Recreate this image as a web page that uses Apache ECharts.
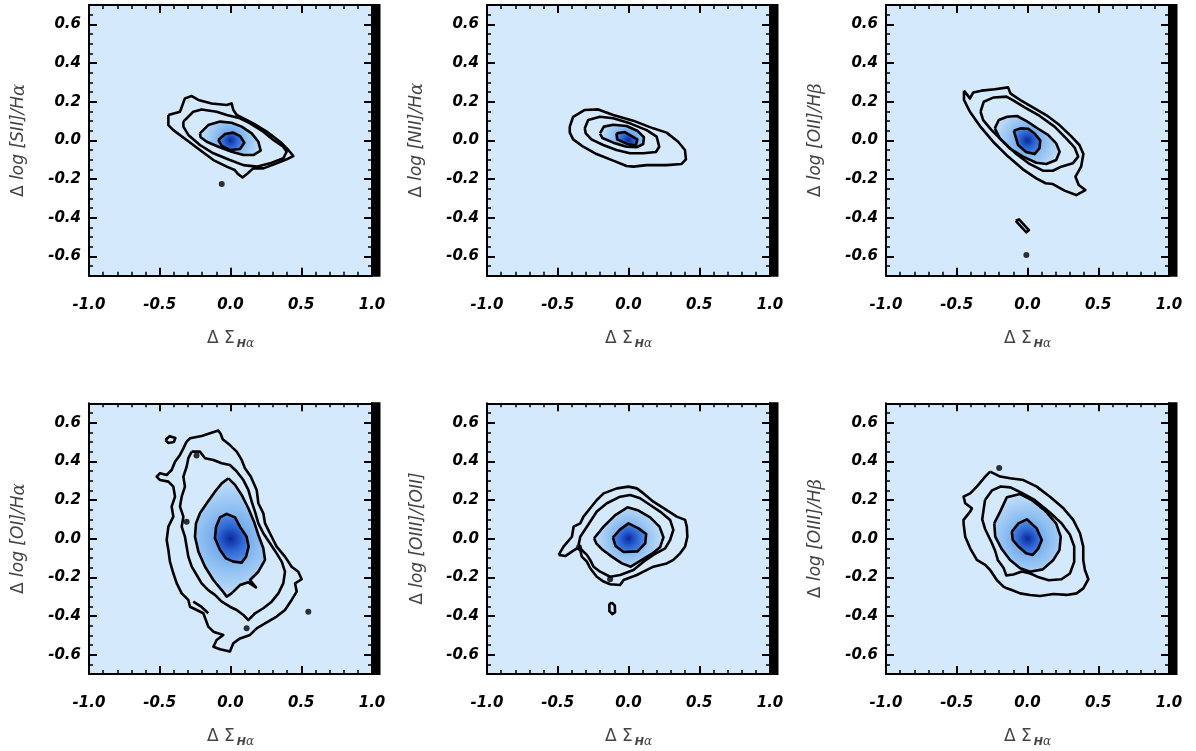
<!DOCTYPE html>
<html><head><meta charset="utf-8">
<script src="https://cdn.jsdelivr.net/npm/echarts@6/dist/echarts.min.js"></script>
<style>html,body{margin:0;padding:0;background:#fff}#c{width:1196px;height:751px}</style>
</head><body><div id="c"></div><script>
// ---- tick labels ----
const yTicks = [-0.6, -0.4, -0.2, 0.0, 0.2, 0.4, 0.6];
const xTitle = 'Δ Σ{s|H}{sa|α}';
const yTitles = [
  'Δ {i|log [SII]/H}{a|α}', 'Δ {i|log [NII]/H}{a|α}', 'Δ {i|log [OII]/H}{a|β}',
  'Δ {i|log [OI]/H}{a|α}', 'Δ {i|log [OIII]/[OII]}', 'Δ {i|log [OIII]/H}{a|β}'
];
const peaks = [[0, 0], [0, 0], [0, 0], [0, 0], [0, 0], [0, 0]];

// ---- panel 1: [SII]/Ha ----
const sii_c1 = [[-0.439,0.131],[-0.357,0.148],[-0.322,0.217],[-0.274,0.229],[-0.227,0.209],[-0.133,0.191],[-0.027,0.183],[0.008,0.191],[0.020,0.157],[0.044,0.131],[0.161,0.088],[0.256,0.045],[0.350,-0.007],[0.409,-0.050],[0.444,-0.081],[0.397,-0.098],[0.326,-0.119],[0.232,-0.145],[0.161,-0.145],[0.120,-0.171],[0.085,-0.192],[0.050,-0.172],[0.030,-0.153],[-0.027,-0.136],[-0.121,-0.102],[-0.216,-0.050],[-0.310,0.002],[-0.404,0.053],[-0.439,0.079]];
const sii_c2 = [[-0.333,0.097],[-0.263,0.148],[-0.204,0.160],[-0.098,0.148],[-0.027,0.131],[0.067,0.114],[0.138,0.088],[0.232,0.045],[0.303,0.002],[0.373,-0.033],[0.397,-0.059],[0.373,-0.093],[0.279,-0.119],[0.185,-0.136],[0.091,-0.128],[-0.004,-0.102],[-0.121,-0.067],[-0.216,-0.024],[-0.298,0.028],[-0.333,0.071]];
const sii_c3 = [[-0.216,0.036],[-0.157,0.079],[-0.074,0.097],[0.008,0.091],[0.079,0.071],[0.150,0.036],[0.197,-0.007],[0.213,-0.053],[0.161,-0.076],[0.091,-0.076],[0.008,-0.059],[-0.086,-0.033],[-0.168,-0.007],[-0.211,0.016]];
const sii_c4 = [[-0.086,0.002],[-0.039,0.033],[0.020,0.040],[0.067,0.022],[0.098,-0.012],[0.067,-0.045],[-0.004,-0.050],[-0.062,-0.029]];
const sii_islands = [];
const sii_dots = [[-0.062,-0.226]];

// ---- panel 2: [NII]/Ha ----
const nii_c1 = [[-0.415,0.071],[-0.391,0.122],[-0.309,0.157],[-0.214,0.160],[-0.108,0.131],[0.033,0.102],[0.174,0.062],[0.269,0.040],[0.351,-0.007],[0.399,-0.050],[0.406,-0.098],[0.375,-0.122],[0.269,-0.128],[0.128,-0.128],[0.033,-0.136],[-0.014,-0.133],[-0.108,-0.105],[-0.226,-0.071],[-0.320,-0.033],[-0.391,0.005],[-0.415,0.040]];
const nii_c2 = [[-0.309,0.062],[-0.285,0.105],[-0.202,0.122],[-0.108,0.114],[0.010,0.088],[0.128,0.053],[0.199,0.019],[0.217,-0.033],[0.194,-0.060],[0.104,-0.067],[0.010,-0.067],[-0.085,-0.050],[-0.179,-0.024],[-0.262,0.005],[-0.302,0.036]];
const nii_c3 = [[-0.202,0.036],[-0.174,0.071],[-0.108,0.081],[-0.014,0.074],[0.062,0.050],[0.109,0.016],[0.104,-0.019],[0.057,-0.036],[-0.014,-0.033],[-0.108,-0.012],[-0.184,0.012]];
const nii_c4 = [[-0.085,0.036],[-0.026,0.043],[0.062,0.005],[0.052,-0.026],[-0.002,-0.021],[-0.080,0.005]];
const nii_islands = [];
const nii_dots = [];

// ---- panel 3: [OII]/Hb ----
const oii_c1 = [[-0.449,0.257],[-0.407,0.217],[-0.384,0.247],[-0.325,0.257],[-0.231,0.264],[-0.137,0.274],[-0.121,0.243],[-0.044,0.205],[0.038,0.171],[0.132,0.131],[0.226,0.079],[0.308,0.022],[0.367,-0.024],[0.395,-0.071],[0.379,-0.136],[0.339,-0.188],[0.362,-0.231],[0.409,-0.257],[0.344,-0.283],[0.262,-0.260],[0.179,-0.226],[0.128,-0.222],[0.062,-0.197],[-0.032,-0.150],[-0.137,-0.084],[-0.243,-0.007],[-0.336,0.074],[-0.407,0.148],[-0.449,0.209]];
const oii_c2 = [[-0.332,0.148],[-0.309,0.200],[-0.238,0.222],[-0.149,0.226],[-0.107,0.209],[-0.020,0.171],[0.086,0.126],[0.191,0.071],[0.273,0.010],[0.332,-0.036],[0.358,-0.084],[0.320,-0.119],[0.238,-0.136],[0.179,-0.157],[0.109,-0.157],[0.015,-0.122],[-0.079,-0.071],[-0.172,-0.007],[-0.254,0.053],[-0.313,0.105]];
const oii_c3 = [[-0.231,0.062],[-0.203,0.105],[-0.144,0.122],[-0.074,0.126],[-0.003,0.098],[0.067,0.064],[0.145,0.028],[0.203,-0.016],[0.227,-0.059],[0.203,-0.102],[0.133,-0.122],[0.062,-0.116],[-0.032,-0.084],[-0.126,-0.041],[-0.196,0.010]];
const oii_c4 = [[-0.097,0.050],[-0.050,0.062],[0.005,0.060],[0.050,0.035],[0.090,0.000],[0.085,-0.040],[0.050,-0.071],[-0.010,-0.060],[-0.067,-0.024]];
const oii_islands = [[[-0.083,-0.416],[-0.060,-0.409],[0.010,-0.464],[-0.008,-0.476],[-0.083,-0.416]]];
const oii_dots = [[-0.008,-0.593]];

// ---- panel 4: [OI]/Ha ----
const oi_c1 = [[-0.310,0.502],[-0.286,0.519],[-0.204,0.531],[-0.086,0.559],[-0.069,0.541],[-0.055,0.514],[-0.004,0.484],[0.044,0.450],[0.079,0.407],[0.102,0.364],[0.143,0.321],[0.185,0.252],[0.197,0.183],[0.232,0.131],[0.244,0.079],[0.291,0.010],[0.326,-0.041],[0.385,-0.093],[0.432,-0.145],[0.479,-0.171],[0.503,-0.210],[0.456,-0.231],[0.468,-0.274],[0.432,-0.317],[0.385,-0.369],[0.326,-0.403],[0.244,-0.438],[0.185,-0.464],[0.138,-0.498],[0.067,-0.516],[0.020,-0.541],[-0.004,-0.584],[-0.074,-0.572],[-0.121,-0.559],[-0.098,-0.524],[-0.051,-0.498],[-0.121,-0.481],[-0.157,-0.455],[-0.192,-0.386],[-0.239,-0.369],[-0.286,-0.352],[-0.298,-0.317],[-0.345,-0.283],[-0.380,-0.231],[-0.404,-0.179],[-0.428,-0.119],[-0.439,-0.059],[-0.451,-0.007],[-0.439,0.062],[-0.404,0.114],[-0.416,0.166],[-0.392,0.217],[-0.404,0.269],[-0.439,0.295],[-0.498,0.303],[-0.522,0.321],[-0.498,0.338],[-0.451,0.329],[-0.416,0.355],[-0.392,0.398],[-0.357,0.433],[-0.333,0.467]];
const oi_c2 = [[-0.274,0.450],[-0.216,0.450],[-0.180,0.416],[-0.121,0.407],[-0.062,0.390],[-0.004,0.381],[0.044,0.347],[0.091,0.303],[0.126,0.252],[0.150,0.191],[0.173,0.140],[0.197,0.079],[0.232,0.028],[0.279,-0.024],[0.326,-0.076],[0.362,-0.119],[0.385,-0.171],[0.373,-0.231],[0.338,-0.283],[0.291,-0.326],[0.232,-0.360],[0.173,-0.386],[0.126,-0.421],[0.091,-0.395],[0.044,-0.369],[-0.004,-0.352],[-0.062,-0.326],[-0.110,-0.291],[-0.157,-0.266],[-0.204,-0.231],[-0.239,-0.188],[-0.274,-0.145],[-0.298,-0.093],[-0.310,-0.041],[-0.322,0.010],[-0.345,0.062],[-0.333,0.114],[-0.357,0.166],[-0.345,0.217],[-0.322,0.269],[-0.333,0.321],[-0.310,0.372],[-0.298,0.416]];
const oi_c3 = [[-0.015,0.312],[0.032,0.278],[0.079,0.226],[0.126,0.157],[0.166,0.088],[0.197,0.019],[0.232,-0.050],[0.244,-0.110],[0.197,-0.171],[0.138,-0.214],[0.180,-0.252],[0.126,-0.226],[0.067,-0.240],[0.008,-0.283],[-0.027,-0.300],[-0.062,-0.266],[-0.121,-0.214],[-0.180,-0.145],[-0.227,-0.067],[-0.251,0.010],[-0.244,0.079],[-0.216,0.131],[-0.168,0.183],[-0.110,0.243],[-0.062,0.286]];
const oi_c4 = [[-0.102,0.062],[-0.074,0.110],[-0.027,0.128],[0.032,0.110],[0.067,0.062],[0.114,0.010],[0.128,-0.041],[0.110,-0.093],[0.079,-0.124],[0.020,-0.119],[-0.032,-0.102],[-0.074,-0.059],[-0.110,0.002]];
const oi_islands = [
  [[-0.46,0.510],[-0.43,0.530],[-0.39,0.520],[-0.40,0.500],[-0.44,0.495],[-0.46,0.510]],
  [[-0.263,-0.326],[-0.210,-0.350],[-0.157,-0.386]]
];
const oi_dots = [[-0.31,0.088],[-0.24,0.43],[0.55,-0.378],[0.114,-0.464]];

// ---- panel 5: [OIII]/[OII] ----
const oiiioii_c1 = [[-0.494,-0.084],[-0.459,-0.041],[-0.400,0.010],[-0.388,0.062],[-0.341,0.079],[-0.318,0.114],[-0.271,0.157],[-0.224,0.200],[-0.176,0.234],[-0.082,0.260],[0.000,0.269],[0.059,0.260],[0.106,0.234],[0.176,0.191],[0.270,0.148],[0.341,0.114],[0.400,0.097],[0.412,0.062],[0.416,0.010],[0.400,-0.041],[0.365,-0.076],[0.317,-0.110],[0.270,-0.128],[0.176,-0.145],[0.106,-0.171],[0.059,-0.188],[-0.035,-0.214],[-0.059,-0.240],[-0.130,-0.236],[-0.176,-0.222],[-0.224,-0.197],[-0.271,-0.153],[-0.294,-0.119],[-0.330,-0.093],[-0.341,-0.059],[-0.365,-0.050],[-0.400,-0.067],[-0.447,-0.090]];
const oiiioii_c2 = [[-0.353,-0.033],[-0.341,0.010],[-0.294,0.062],[-0.224,0.140],[-0.153,0.183],[-0.059,0.217],[0.012,0.226],[0.082,0.209],[0.153,0.174],[0.223,0.140],[0.294,0.097],[0.317,0.045],[0.294,-0.007],[0.259,-0.050],[0.176,-0.084],[0.106,-0.119],[0.035,-0.162],[-0.059,-0.188],[-0.130,-0.197],[-0.200,-0.171],[-0.247,-0.145],[-0.271,-0.110],[-0.294,-0.084],[-0.330,-0.059]];
const oiiioii_c3 = [[-0.243,0.002],[-0.176,0.062],[-0.094,0.122],[-0.007,0.162],[0.071,0.145],[0.153,0.110],[0.219,0.062],[0.247,0.007],[0.223,-0.045],[0.164,-0.079],[0.094,-0.110],[0.016,-0.145],[-0.047,-0.128],[-0.118,-0.093],[-0.181,-0.059],[-0.228,-0.024]];
const oiiioii_c4 = [[-0.110,0.007],[-0.059,0.048],[0.000,0.079],[0.071,0.053],[0.125,0.024],[0.118,-0.024],[0.064,-0.066],[-0.035,-0.069],[-0.092,-0.038]];
const oiiioii_islands = [[[-0.12,-0.330],[-0.097,-0.345],[-0.095,-0.380],[-0.115,-0.390],[-0.135,-0.375],[-0.135,-0.340],[-0.12,-0.330]]];
const oiiioii_dots = [[-0.13,-0.21],[-0.35,-0.045]];

// ---- panel 6: [OIII]/Hb ----
const oiiihb_c1 = [[-0.264,0.347],[-0.193,0.321],[-0.123,0.312],[-0.029,0.303],[0.065,0.269],[0.159,0.217],[0.254,0.157],[0.323,0.097],[0.371,0.028],[0.394,-0.041],[0.394,-0.110],[0.406,-0.162],[0.430,-0.210],[0.394,-0.257],[0.347,-0.283],[0.276,-0.291],[0.183,-0.286],[0.089,-0.297],[0.018,-0.291],[-0.052,-0.283],[-0.111,-0.266],[-0.146,-0.257],[-0.170,-0.248],[-0.217,-0.214],[-0.264,-0.162],[-0.299,-0.136],[-0.358,-0.110],[-0.405,-0.050],[-0.440,0.010],[-0.452,0.079],[-0.452,0.097],[-0.405,0.140],[-0.393,0.157],[-0.440,0.183],[-0.452,0.217],[-0.405,0.234],[-0.358,0.269],[-0.299,0.321]];
const oiiihb_c2 = [[-0.30,0.20],[-0.25,0.25],[-0.19,0.27],[-0.12,0.265],[-0.05,0.24],[0.05,0.20],[0.15,0.14],[0.24,0.08],[0.30,0.02],[0.33,-0.04],[0.33,-0.12],[0.30,-0.18],[0.24,-0.21],[0.15,-0.215],[0.08,-0.20],[0.02,-0.18],[-0.04,-0.17],[-0.10,-0.185],[-0.15,-0.19],[-0.17,-0.15],[-0.21,-0.11],[-0.23,-0.06],[-0.26,-0.01],[-0.30,0.05],[-0.32,0.10],[-0.31,0.15]];
const oiiihb_c3 = [[-0.235,0.079],[-0.193,0.140],[-0.146,0.214],[-0.052,0.231],[0.030,0.200],[0.124,0.145],[0.202,0.079],[0.235,0.010],[0.226,-0.059],[0.183,-0.110],[0.108,-0.159],[0.018,-0.171],[-0.052,-0.153],[-0.123,-0.110],[-0.181,-0.055],[-0.228,0.010]];
const oiiihb_c4 = [[-0.111,0.036],[-0.064,0.079],[-0.005,0.100],[0.065,0.053],[0.101,-0.007],[0.077,-0.050],[0.037,-0.084],[-0.010,-0.076],[-0.064,-0.041],[-0.104,-0.007]];
const oiiihb_islands = [];
const oiiihb_dots = [[-0.20,0.365]];

// ---- assemble ----
const panels = [
  {c: [sii_c1, sii_c2, sii_c3, sii_c4], isl: sii_islands, dots: sii_dots},
  {c: [nii_c1, nii_c2, nii_c3, nii_c4], isl: nii_islands, dots: nii_dots},
  {c: [oii_c1, oii_c2, oii_c3, oii_c4], isl: oii_islands, dots: oii_dots},
  {c: [oi_c1, oi_c2, oi_c3, oi_c4], isl: oi_islands, dots: oi_dots},
  {c: [oiiioii_c1, oiiioii_c2, oiiioii_c3, oiiioii_c4], isl: oiiioii_islands, dots: oiiioii_dots},
  {c: [oiiihb_c1, oiiihb_c2, oiiihb_c3, oiiihb_c4], isl: oiiihb_islands, dots: oiiihb_dots}
];

const LEFTS = [89, 487, 886], TOPS = [5, 403.3], W = 283, H = 270.7;
const labelFont = {fontFamily: 'DejaVu Sans', fontWeight: 'bold', fontStyle: 'italic', fontSize: 15, color: '#000'};
const lineBlack = {color: '#000', width: 2};
const STOPS3 = [{offset: 0, color: '#5592e4'}, {offset: 0.5, color: '#8fbff2'}, {offset: 1, color: '#c6e0fa'}];
const STOPS4 = [{offset: 0, color: '#0a2a9e'}, {offset: 0.45, color: '#2c63d2'}, {offset: 1, color: '#5b95e6'}];

const grid = [], xAxis = [], yAxis = [], series = [], graphic = [];
const closed = p => p.concat([p[0]]);

function fillRender(poly, stops) {
  return function (params, api) {
    const pts = poly.map(p => api.coord(p));
    const c = api.coord([api.value(0), api.value(1)]);
    let r = 1;
    pts.forEach(p => { r = Math.max(r, Math.hypot(p[0] - c[0], p[1] - c[1])); });
    return {type: 'polygon', shape: {points: pts},
      style: {fill: {type: 'radial', x: c[0], y: c[1], r: r, global: true, colorStops: stops}}};
  };
}

panels.forEach((pn, g) => {
  const col = g % 3, row = Math.floor(g / 3);
  const L = LEFTS[col], T = TOPS[row];
  grid.push({left: L, top: T, width: W, height: H, show: true, backgroundColor: '#d5e9fc', borderWidth: 0, containLabel: false});
  [false, true].forEach(top => {
    xAxis.push({
      gridIndex: g, type: 'value', min: -1, max: 1, interval: 0.5, position: top ? 'top' : 'bottom',
      axisLine: {show: true, onZero: false, lineStyle: lineBlack},
      axisTick: {show: true, inside: true, length: 8, lineStyle: {color: '#000', width: 2}},
      minorTick: {show: true, splitNumber: 5, length: 4, lineStyle: {color: '#000', width: 1.5}},
      splitLine: {show: false}, minorSplitLine: {show: false},
      axisLabel: top ? {show: false} : Object.assign({show: true, margin: 22, showMinLabel: true, showMaxLabel: true,
        formatter: v => v.toFixed(1)}, labelFont),
      name: top ? '' : xTitle, nameLocation: 'middle', nameGap: 51,
      nameTextStyle: {fontFamily: 'DejaVu Sans', fontSize: 17, color: '#444',
        rich: {s: {fontFamily: 'DejaVu Sans', fontSize: 11, fontWeight: 'bold', fontStyle: 'italic', color: '#444', padding: [11, 0, 0, 2]},
               sa: {fontFamily: 'DejaVu Serif', fontSize: 12, fontStyle: 'italic', color: '#444', padding: [11, 0, 0, 0]}}}
    });
  });
  ['left', 'right'].forEach(pos => {
    yAxis.push({
      gridIndex: g, type: 'value', min: -0.7, max: 0.7, interval: 0.1, position: pos,
      axisLine: {show: true, onZero: false, lineStyle: lineBlack},
      axisTick: {show: true, inside: true, length: 8, customValues: yTicks, lineStyle: {color: '#000', width: 2}},
      splitLine: {show: false},
      axisLabel: pos === 'right' ? {show: false} : Object.assign({show: true, margin: 8, customValues: yTicks,
        formatter: v => v.toFixed(1)}, labelFont),
      name: pos === 'left' ? yTitles[g] : '', nameLocation: 'middle', nameRotate: 90, nameGap: 61,
      nameTextStyle: {fontFamily: 'DejaVu Sans', fontSize: 17, color: '#444',
        rich: {i: {fontFamily: 'DejaVu Sans', fontSize: 17, fontStyle: 'italic', color: '#444'},
               a: {fontFamily: 'DejaVu Serif', fontSize: 18, fontStyle: 'italic', color: '#444'}}}
    });
    yAxis.push({
      gridIndex: g, type: 'value', min: -0.7, max: 0.7, interval: 0.05, position: pos,
      axisLine: {show: false, onZero: false}, axisLabel: {show: false}, splitLine: {show: false},
      axisTick: {show: true, inside: true, length: 4, lineStyle: {color: '#000', width: 1.5}}
    });
  });
  const xi = g * 2, yi = g * 4;
  // shaded density
  series.push({type: 'custom', xAxisIndex: xi, yAxisIndex: yi, data: [peaks[g]], renderItem: fillRender(pn.c[2], STOPS3), silent: true, clip: true, z: 1});
  series.push({type: 'custom', xAxisIndex: xi, yAxisIndex: yi, data: [peaks[g]], renderItem: fillRender(pn.c[3], STOPS4), silent: true, clip: true, z: 2});
  // contours
  pn.c.forEach(poly => {
    series.push({type: 'line', xAxisIndex: xi, yAxisIndex: yi, data: closed(poly), showSymbol: false, symbol: 'none',
      lineStyle: {color: '#000', width: 2.6, join: 'round'}, silent: true, clip: true, z: 3});
  });
  pn.isl.forEach(poly => {
    series.push({type: 'line', xAxisIndex: xi, yAxisIndex: yi, data: poly, showSymbol: false, symbol: 'none',
      lineStyle: {color: '#000', width: 2.6, join: 'round'}, silent: true, clip: true, z: 3});
  });
  if (pn.dots.length) {
    series.push({type: 'scatter', xAxisIndex: xi, yAxisIndex: yi, data: pn.dots, symbolSize: 6,
      itemStyle: {color: '#000'}, silent: true, z: 3});
  }
  graphic.push({type: 'rect', shape: {x: L + W - 1, y: T - 1, width: 9.5, height: H + 2}, style: {fill: '#000'}, z: 100});
});

const chart = echarts.init(document.getElementById('c'), null, {renderer: 'canvas'});
chart.setOption({animation: false, backgroundColor: '#fff', grid, xAxis, yAxis, series, graphic});
</script></body></html>
